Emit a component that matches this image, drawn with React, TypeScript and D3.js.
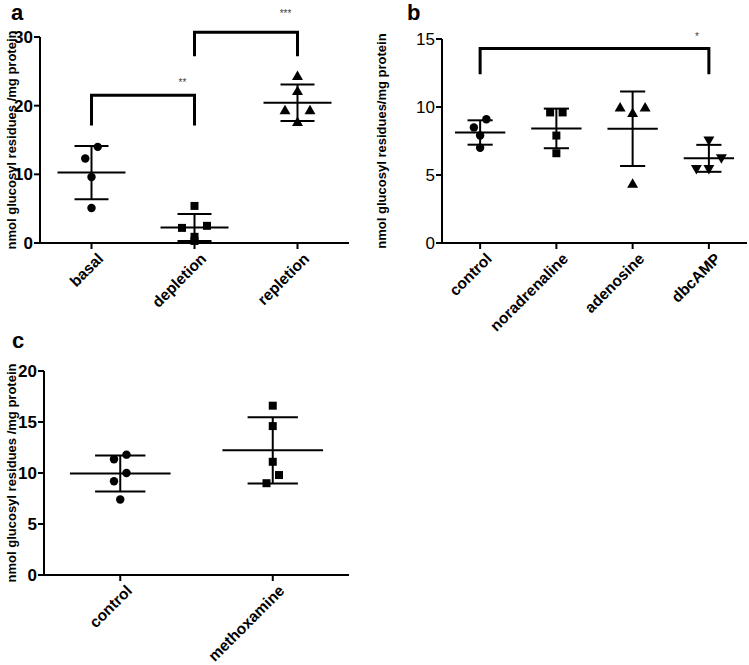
import React from 'react';
import * as d3 from 'd3';

// panel a
const catsA = ['basal', 'depletion', 'repletion'];
const basal = [14.0, 12.3, 9.6, 5.1];
const depletion = [5.4, 2.5, 2.2, 0.9, 0.3];
const repletion = [24.2, 22.0, 19.2, 19.2, 17.5];
const ticksA = [0, 10, 20, 30];
const sigA = [
  { from: 'basal', to: 'depletion', top: 21.5, foot: 17.1, label: '**', labelAt: 22.9 },
  { from: 'depletion', to: 'repletion', top: 30.7, foot: 27.2, label: '***', labelAt: 32.9 },
];

// panel b
const catsB = ['control', 'noradrenaline', 'adenosine', 'dbcAMP'];
const controlB = [9.1, 8.5, 7.9, 7.0];
const noradrenaline = [9.6, 9.6, 7.9, 6.6];
const adenosine = [9.9, 9.9, 9.5, 4.3];
const dbcAMP = [7.6, 6.3, 5.5, 5.5];
const ticksB = [0, 5, 10, 15];
const sigB = [
  { from: 'control', to: 'dbcAMP', top: 14.3, foot: 12.4, label: '*', labelAt: 14.9 },
];

// panel c
const catsC = ['control', 'methoxamine'];
const controlC = [11.8, 11.35, 10.0, 9.2, 7.4];
const methoxamine = [16.6, 14.6, 11.1, 9.8, 9.0];
const ticksC = [0, 5, 10, 15, 20];

const FONT = '"Liberation Sans", Arial, sans-serif';

type Sig = { from: string; to: string; top: number; foot: number; label: string; labelAt: number };

function symbolFor(kind: string) {
  if (kind === 'circle') return d3.symbol(d3.symbolCircle, 56)();
  if (kind === 'square') return d3.symbol(d3.symbolSquare, 64)();
  return d3.symbol(d3.symbolTriangle, 52)();
}

// spread points that sit at nearly the same height into symmetric rows
function spread(values: number[], y: d3.ScaleLinear<number, number>, gap: number) {
  const idx = values.map((v, i) => i).sort((a, b) => values[b] - values[a]);
  const rows: number[][] = [];
  let cur: number[] = [];
  let start = 0;
  idx.forEach(i => {
    const py = y(values[i]);
    if (cur.length && Math.abs(py - start) < 12) cur.push(i);
    else {
      if (cur.length) rows.push(cur);
      cur = [i];
      start = py;
    }
  });
  if (cur.length) rows.push(cur);
  const off = new Array(values.length).fill(0);
  rows.forEach(r => {
    const asc = r.slice().sort((a, b) => values[a] - values[b]);
    const n = asc.length;
    let slots: number[];
    if (n % 2 === 1) {
      slots = [0];
      for (let k = 1; slots.length < n; k++) slots.push(-k, k);
    } else {
      slots = [];
      for (let k = 0; slots.length < n; k++) slots.push(-(k + 0.5), k + 0.5);
    }
    asc.forEach((i, j) => { off[i] = slots[j] * gap; });
  });
  return off;
}

function Panel(props: {
  letter: string; letterX: number; letterY: number;
  left: number; right: number; top: number; bottom: number;
  cats: string[]; groups: number[][]; markers: string[];
  ticks: number[]; ylabel: string; labelX: number; tickBold: boolean;
  sigs: Sig[];
}) {
  const { cats, groups, markers, ticks, sigs } = props;
  const x = d3.scalePoint<string>().domain(cats).range([props.left, props.right]).padding(0.5);
  const y = d3.scaleLinear().domain([0, d3.max(ticks) as number]).range([props.bottom, props.top]);
  const step = x.step();
  const midY = (props.top + props.bottom) / 2;
  return (
    <g fontFamily={FONT}>
      <text x={props.letterX} y={props.letterY} fontSize={22} fontWeight="bold">{props.letter}</text>
      <text transform={`translate(${props.labelX},${midY}) rotate(-90)`} textAnchor="middle"
        fontSize={13} fontWeight="bold" dy="0.35em">{props.ylabel}</text>
      {/* y axis */}
      <line x1={props.left} x2={props.left} y1={y(0)} y2={y(d3.max(ticks) as number)} stroke="#000" strokeWidth={2} />
      {ticks.map(t => (
        <g key={t}>
          <line x1={props.left - 6} x2={props.left} y1={y(t)} y2={y(t)} stroke="#000" strokeWidth={2} />
          <text x={props.left - 7} y={y(t)} dy="0.36em" textAnchor="end" fontSize={17}
            fontWeight={props.tickBold ? 'bold' : 'normal'}>{t}</text>
        </g>
      ))}
      {/* x axis */}
      <line x1={props.left} x2={props.right} y1={y(0)} y2={y(0)} stroke="#000" strokeWidth={2} />
      {cats.map(c => (
        <g key={c}>
          <line x1={x(c)} x2={x(c)} y1={y(0)} y2={y(0) + 6} stroke="#000" strokeWidth={2} />
          <text transform={`translate(${(x(c) as number) + 5},${y(0) + 9}) rotate(-45)`} textAnchor="end"
            dy="0.7em" fontSize={15.5} fontWeight="bold">{c}</text>
        </g>
      ))}
      {/* groups */}
      {groups.map((vals, gi) => {
        const cx = x(cats[gi]) as number;
        const m = d3.mean(vals) as number;
        const sd = d3.deviation(vals) as number;
        const off = spread(vals, y, 12.5);
        const path = symbolFor(markers[gi]);
        return (
          <g key={gi}>
            <line x1={cx - step * 0.33} x2={cx + step * 0.33} y1={y(m)} y2={y(m)} stroke="#000" strokeWidth={2} />
            <line x1={cx} x2={cx} y1={y(m - sd)} y2={y(m + sd)} stroke="#000" strokeWidth={2} />
            <line x1={cx - step * 0.165} x2={cx + step * 0.165} y1={y(m + sd)} y2={y(m + sd)} stroke="#000" strokeWidth={2} />
            <line x1={cx - step * 0.165} x2={cx + step * 0.165} y1={y(m - sd)} y2={y(m - sd)} stroke="#000" strokeWidth={2} />
            {vals.map((v, i) => (
              <path key={i} d={path as string} fill="#000"
                transform={`translate(${cx + off[i]},${y(v)})${markers[gi] === 'down' ? ' rotate(180)' : ''}`} />
            ))}
          </g>
        );
      })}
      {/* significance brackets */}
      {sigs.map((s, i) => {
        const x1 = x(s.from) as number;
        const x2 = x(s.to) as number;
        return (
          <g key={i}>
            <path d={`M${x1},${y(s.foot)}V${y(s.top)}H${x2}V${y(s.foot)}`} fill="none" stroke="#000" strokeWidth={3} />
            <text x={x2 - 12} y={y(s.labelAt)} textAnchor="middle" fontSize={10} fill="#444">{s.label}</text>
          </g>
        );
      })}
    </g>
  );
}

export default function App() {
  return (
    <svg width={749} height={665} style={{ position: 'absolute', left: 0, top: 0, background: '#fff' }}>
      <rect width={749} height={665} fill="#fff" />
      <Panel letter="a" letterX={11} letterY={20} left={40} right={349} top={37} bottom={243}
        cats={catsA} groups={[basal, depletion, repletion]} markers={['circle', 'square', 'triangle']}
        ticks={ticksA} ylabel="nmol glucosyl residues /mg protein" labelX={11} tickBold={true} sigs={sigA} />
      <Panel letter="b" letterX={407} letterY={20} left={442} right={747} top={39} bottom={243}
        cats={catsB} groups={[controlB, noradrenaline, adenosine, dbcAMP]} markers={['circle', 'square', 'triangle', 'down']}
        ticks={ticksB} ylabel="nmol glucosyl residues/mg protein" labelX={381} tickBold={false} sigs={sigB} />
      <Panel letter="c" letterX={12} letterY={348} left={44} right={349} top={371} bottom={575}
        cats={catsC} groups={[controlC, methoxamine]} markers={['circle', 'square']}
        ticks={ticksC} ylabel="nmol glucosyl residues /mg protein" labelX={11} tickBold={true} sigs={[]} />
    </svg>
  );
}
